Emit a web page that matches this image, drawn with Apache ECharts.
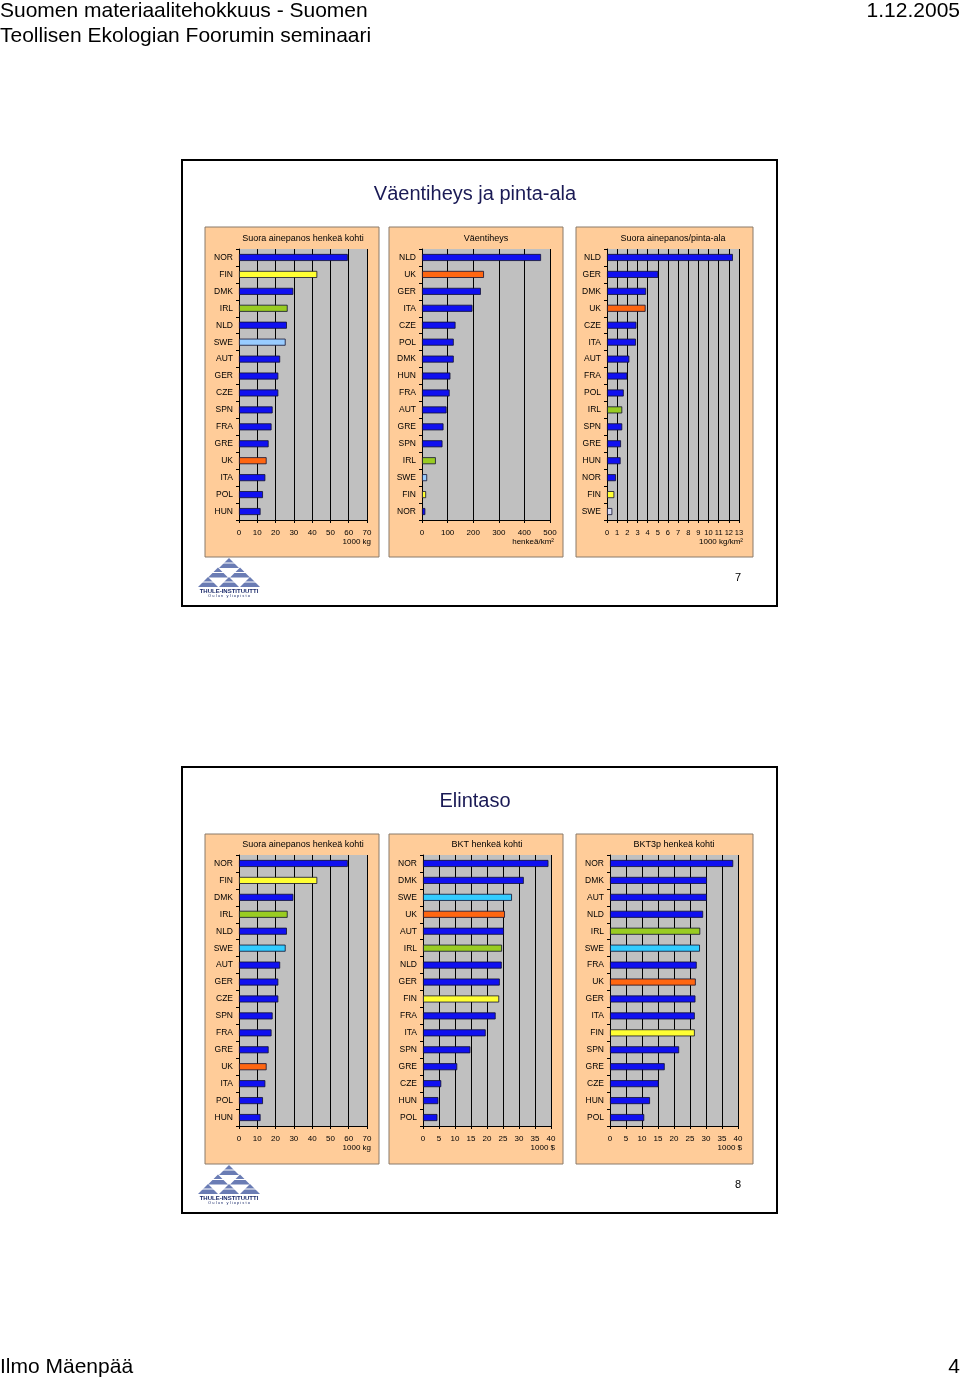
<!DOCTYPE html>
<html>
<head>
<meta charset="utf-8">
<script src="https://cdn.jsdelivr.net/npm/echarts@6/dist/echarts.min.js"></script>
<style>
html,body{margin:0;padding:0;background:#fff;}
#c{width:960px;height:1380px;}
</style>
</head>
<body>
<div id="c"></div>
<script>
// ---------- DATA ----------
const cat1 = ['NOR','FIN','DMK','IRL','NLD','SWE','AUT','GER','CZE','SPN','FRA','GRE','UK','ITA','POL','HUN'];
const val1 = [59.5, 42.8, 29.7, 26.6, 26.2, 25.5, 22.5, 21.5, 21.5, 18.4, 17.8, 16.2, 15.1, 14.4, 13.1, 11.8];

const cat2 = ['NLD','UK','GER','ITA','CZE','POL','DMK','HUN','FRA','AUT','GRE','SPN','IRL','SWE','FIN','NOR'];
const val2 = [465, 242, 230, 197, 131, 124, 124, 111, 108, 96, 84, 80, 54, 20, 16, 13];

const cat3 = ['NLD','GER','DMK','UK','CZE','ITA','AUT','FRA','POL','IRL','SPN','GRE','HUN','NOR','FIN','SWE'];
const val3 = [12.4, 5.05, 3.85, 3.8, 2.9, 2.85, 2.2, 2.0, 1.65, 1.5, 1.5, 1.38, 1.34, 0.88, 0.72, 0.52];

const cat4 = cat1;
const val4 = val1;

const cat5 = ['NOR','DMK','SWE','UK','AUT','IRL','NLD','GER','FIN','FRA','ITA','SPN','GRE','CZE','HUN','POL'];
const val5 = [39.2, 31.5, 27.8, 25.6, 25.3, 24.7, 24.6, 24.0, 23.8, 22.7, 19.6, 14.8, 10.7, 5.7, 4.8, 4.5];

const cat6 = ['NOR','DMK','AUT','NLD','IRL','SWE','FRA','UK','GER','ITA','FIN','SPN','GRE','CZE','HUN','POL'];
const val6 = [38.5, 30.3, 30.3, 29.1, 28.2, 28.1, 27.1, 26.8, 26.7, 26.5, 26.5, 21.6, 17.1, 15.2, 12.5, 10.7];

const titles = ['Suora ainepanos henkeä kohti','Väentiheys','Suora ainepanos/pinta-ala',
                'Suora ainepanos henkeä kohti','BKT henkeä kohti','BKT3p henkeä kohti'];
const units = ['1000 kg','henkeä/km²','1000 kg/km²','1000 kg','1000 $','1000 $'];
const axisMax = [70, 500, 13, 70, 40, 40];
const axisStep = [10, 100, 1, 10, 5, 5];

// ---------- STYLE ----------
const BLUE = '#1010F0';
const hl = {FIN:'#FFFF33', IRL:'#99CC22', UK:'#FF6611'};
const sweColor = ['#99CCFF','#99CCFF','#D8DCF4','#33CCFF','#33CCFF','#33CCFF'];
const FONT = 'Liberation Sans, Arial, sans-serif';

const panels = [
  {cats:cat1, vals:val1, left:239, top:249, width:128},
  {cats:cat2, vals:val2, left:422, top:249, width:128},
  {cats:cat3, vals:val3, left:607, top:249, width:132},
  {cats:cat4, vals:val4, left:239, top:855, width:128},
  {cats:cat5, vals:val5, left:423, top:855, width:128},
  {cats:cat6, vals:val6, left:610, top:855, width:128}
];
const panelBg = [
  {x:205,y:227,w:174},{x:389,y:227,w:174},{x:576,y:227,w:177},
  {x:205,y:834,w:174},{x:389,y:834,w:174},{x:576,y:834,w:177}
];
const GH = 271;

const grids=[], xAxes=[], yAxes=[], series=[], gfx=[];

// frames
[160,767].forEach(function(y){
  gfx.push({type:'rect', z:-20, shape:{x:182,y:y,width:595,height:446},
    style:{fill:'#fff', stroke:'#000', lineWidth:2}});
});
panelBg.forEach(function(p){
  gfx.push({type:'rect', z:-10, shape:{x:p.x,y:p.y,width:p.w,height:330},
    style:{fill:'#FFCC99', stroke:'#8a7a6a', lineWidth:1}});
});

panels.forEach(function(p,i){
  grids.push({left:p.left, top:p.top, width:p.width, height:GH, show:true,
    backgroundColor:'#C0C0C0', borderWidth:0, containLabel:false});
  xAxes.push({type:'value', gridIndex:i, min:0, max:axisMax[i], interval:axisStep[i],
    axisLine:{show:true, lineStyle:{color:'#000', width:1}},
    axisTick:{show:true, length:3, lineStyle:{color:'#000'}},
    splitLine:{show:true, lineStyle:{color:'#000', width:1}},
    axisLabel:{fontSize: i===2 ? 7.5 : 8, color:'#000', fontFamily:FONT, margin:9}});
  yAxes.push({type:'category', gridIndex:i, data:p.cats, inverse:true,
    axisLine:{show:true, lineStyle:{color:'#000', width:1}},
    axisTick:{show:true, length:3, lineStyle:{color:'#000'}},
    splitLine:{show:false},
    axisLabel:{fontSize:8.5, color:'#000', fontFamily:FONT, margin:6}});
  series.push({type:'bar', xAxisIndex:i, yAxisIndex:i, barWidth:7, silent:true,
    data:p.vals.map(function(v,k){
      const c = p.cats[k];
      let col = hl[c] || BLUE;
      if(c==='SWE') col = sweColor[i];
      return {value:v, itemStyle:{color:col, borderColor:'#101030', borderWidth:0.8}};
    })});
  // panel title
  gfx.push({type:'text', z:50, x:p.left + p.width/2, y:p.top-10,
    style:{text:titles[i], fill:'#000', font:'9px '+FONT, align:'center', verticalAlign:'middle'}});
  // unit label
  gfx.push({type:'text', z:50, x:p.left + p.width + 4, y:p.top+GH+22,
    style:{text:units[i], fill:'#000', font:'8px '+FONT, align:'right', verticalAlign:'middle'}});
});

// slide titles
gfx.push({type:'text', z:50, x:475, y:194, style:{text:'Väentiheys ja pinta-ala', fill:'#1a1a55', font:'20px '+FONT, align:'center', verticalAlign:'middle'}});
gfx.push({type:'text', z:50, x:475, y:801, style:{text:'Elintaso', fill:'#1a1a55', font:'20px '+FONT, align:'center', verticalAlign:'middle'}});
// slide numbers
gfx.push({type:'text', z:50, x:738, y:578, style:{text:'7', fill:'#000', font:'11px '+FONT, align:'center', verticalAlign:'middle'}});
gfx.push({type:'text', z:50, x:738, y:1185, style:{text:'8', fill:'#000', font:'11px '+FONT, align:'center', verticalAlign:'middle'}});

// logos
function logo(ox, oy){
  const col = '#6a7cb4';
  const tri = function(cx, by, w, h){
    return {type:'polygon', z:40, shape:{points:[[cx-w/2,by],[cx+w/2,by],[cx,by-h]]}, style:{fill:col}};
  };
  gfx.push(tri(ox+31, oy+10, 20, 10));
  gfx.push(tri(ox+20, oy+19.5, 20, 10));
  gfx.push(tri(ox+42, oy+19.5, 20, 10));
  gfx.push(tri(ox+10, oy+29, 20, 10));
  gfx.push(tri(ox+31, oy+29, 20, 10));
  gfx.push(tri(ox+52, oy+29, 20, 10));
  for(let k=0;k<3;k++){
    gfx.push({type:'line', z:41, shape:{x1:ox-2, y1:oy+5+k*9.5, x2:ox+64, y2:oy+5+k*9.5}, style:{stroke:'#fff', lineWidth:1.2}});
  }
  gfx.push({type:'text', z:42, x:ox+31, y:oy+33, style:{text:'THULE-INSTITUUTTI', fill:'#1a2a6a', font:'bold 6px '+FONT, align:'center', verticalAlign:'middle'}});
  gfx.push({type:'text', z:42, x:ox+31, y:oy+38, style:{text:'O u l u n   y l i o p i s t o', fill:'#1a2a6a', font:'4px '+FONT, align:'center', verticalAlign:'middle'}});
}
logo(198, 558);
logo(198, 1165);

// page header/footer
gfx.push({type:'text', z:50, x:0, y:11, style:{text:'Suomen materiaalitehokkuus - Suomen', fill:'#000', font:'21px '+FONT, align:'left', verticalAlign:'middle'}});
gfx.push({type:'text', z:50, x:0, y:36, style:{text:'Teollisen Ekologian Foorumin seminaari', fill:'#000', font:'21px '+FONT, align:'left', verticalAlign:'middle'}});
gfx.push({type:'text', z:50, x:960, y:11, style:{text:'1.12.2005', fill:'#000', font:'21px '+FONT, align:'right', verticalAlign:'middle'}});
gfx.push({type:'text', z:50, x:0, y:1367, style:{text:'Ilmo Mäenpää', fill:'#000', font:'21px '+FONT, align:'left', verticalAlign:'middle'}});
gfx.push({type:'text', z:50, x:960, y:1367, style:{text:'4', fill:'#000', font:'21px '+FONT, align:'right', verticalAlign:'middle'}});

const chart = echarts.init(document.getElementById('c'), null, {renderer:'canvas'});
chart.setOption({
  animation:false,
  backgroundColor:'#fff',
  grid:grids, xAxis:xAxes, yAxis:yAxes, series:series,
  graphic:{elements:gfx}
});
</script>
</body>
</html>
